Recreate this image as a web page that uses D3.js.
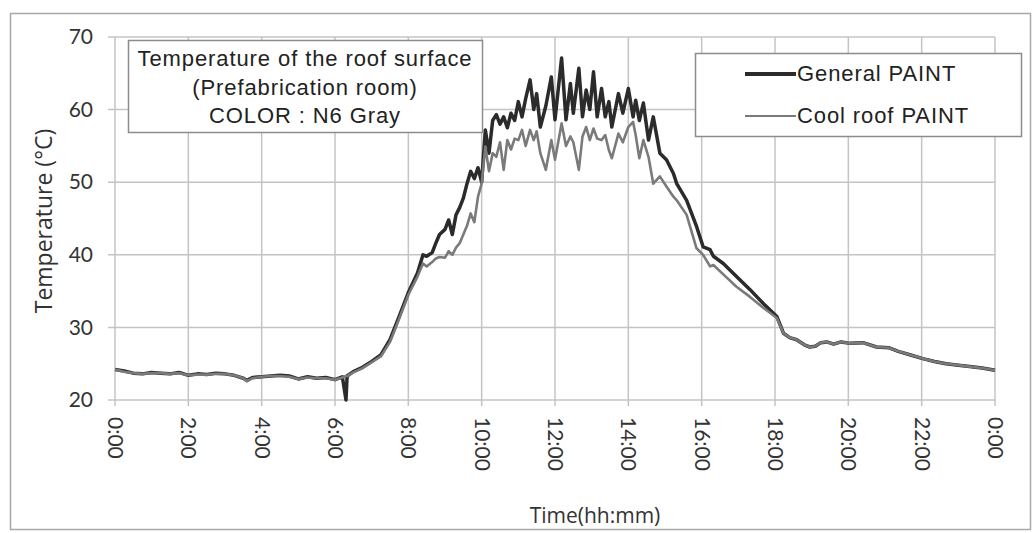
<!DOCTYPE html>
<html>
<head>
<meta charset="utf-8">
<script src="https://cdn.jsdelivr.net/npm/d3@7"></script>
<style>
  body { margin: 0; background: #fff; }
</style>
</head>
<body>
<div class="CHART"></div>
<script>
// hours of the day and readings
var hours = [0, 0.25, 0.5, 0.75, 1, 1.25, 1.5, 1.75, 2, 2.25, 2.5, 2.75, 3, 3.25, 3.5, 3.6, 3.75, 4, 4.25, 4.5, 4.75,
  5, 5.25, 5.5, 5.75, 6, 6.2, 6.3, 6.33, 6.5, 6.75, 7, 7.25, 7.5, 7.75, 8, 8.25, 8.4, 8.5, 8.65, 8.75, 8.85,
  9, 9.1, 9.2, 9.3, 9.4, 9.5, 9.6, 9.7, 9.8, 9.9, 10, 10.1, 10.2, 10.3, 10.4, 10.5, 10.6, 10.7, 10.8, 10.9,
  11, 11.1, 11.2, 11.32, 11.42, 11.5, 11.6, 11.75, 11.9, 12, 12.18, 12.3, 12.42, 12.5, 12.65, 12.75, 12.85, 12.95,
  13.05, 13.15, 13.27, 13.37, 13.47, 13.55, 13.73, 13.85, 14, 14.13, 14.2, 14.3, 14.41, 14.55, 14.68, 14.86,
  15.04, 15.23, 15.32, 15.59, 15.86, 16.04, 16.23, 16.32, 16.59, 16.95, 17.32, 17.68, 18.05, 18.23, 18.4, 18.59,
  18.8, 18.95, 19.1, 19.25, 19.41, 19.6, 19.8, 20.05, 20.4, 20.77, 21.1, 21.36, 21.7, 22.03, 22.35, 22.67, 23,
  23.31, 23.65, 24];

var generalPaint = [24.2, 24.0, 23.7, 23.6, 23.8, 23.7, 23.6, 23.8, 23.4, 23.6, 23.5, 23.7, 23.6, 23.4, 23.0, 22.7, 23.1, 23.2, 23.3, 23.4, 23.3,
  22.9, 23.2, 23.0, 23.1, 22.8, 23.2, 20.0, 23.3, 23.9, 24.5, 25.3, 26.2, 28.3, 31.5, 34.8, 37.5, 40.0, 39.8, 40.3, 41.6, 42.8,
  43.5, 44.8, 42.8, 45.5, 46.5, 47.8, 49.8, 51.5, 50.5, 52.0, 50.0, 57.2, 54.0, 58.5, 59.3, 58.0, 59.0, 57.5, 59.5, 58.5,
  61.1, 59.0, 61.5, 64.1, 60.0, 62.2, 57.6, 60.5, 64.5, 58.6, 67.1, 58.6, 63.6, 59.5, 65.7, 59.0, 62.7, 60.0,
  65.2, 59.0, 62.9, 59.0, 61.1, 57.6, 62.2, 59.5, 62.9, 59.0, 61.3, 58.5, 60.9, 55.8, 59.0, 54.0,
  53.1, 51.2, 49.8, 47.5, 43.9, 41.1, 40.7, 39.8, 38.8, 37.0, 35.2, 33.3, 31.5, 29.2, 28.6, 28.3,
  27.6, 27.3, 27.4, 27.9, 28.0, 27.7, 28.0, 27.8, 27.9, 27.3, 27.2, 26.7, 26.2, 25.7, 25.3, 25.0, 24.8,
  24.6, 24.4, 24.1];

var coolRoofPaint = [24.2, 23.9, 23.7, 23.6, 23.7, 23.7, 23.6, 23.7, 23.4, 23.5, 23.5, 23.6, 23.6, 23.4, 23.0, 22.6, 23.0, 23.2, 23.3, 23.3, 23.2,
  22.9, 23.1, 23.0, 23.0, 22.8, 23.1, 23.3, 23.3, 23.8, 24.4, 25.2, 26.0, 28.0, 31.2, 34.5, 37.0, 38.8, 38.4, 39.0, 39.5, 39.7,
  39.6, 40.5, 40.0, 41.0, 41.6, 42.8, 44.0, 45.7, 44.5, 48.0, 49.8, 54.9, 51.5, 54.0, 53.5, 55.5, 51.7, 55.8, 54.5, 56.0,
  55.8, 57.2, 55.0, 57.2, 55.8, 57.0, 54.0, 51.7, 55.8, 53.1, 58.1, 55.0, 56.3, 55.5, 51.7, 56.3, 57.6, 55.8,
  57.4, 56.0, 55.8, 56.5, 54.4, 53.3, 56.7, 55.5, 57.6, 58.3, 56.5, 53.3, 55.8, 53.5, 49.8, 50.8,
  49.4, 48.0, 47.5, 45.5, 40.9, 40.0, 38.4, 38.6, 37.3, 35.6, 34.2, 32.7, 31.3, 29.2, 28.6, 28.3,
  27.6, 27.3, 27.4, 27.9, 28.0, 27.7, 28.0, 27.8, 27.9, 27.3, 27.2, 26.7, 26.2, 25.7, 25.3, 25.0, 24.8,
  24.6, 24.4, 24.1];

var xTickHours = [0, 2, 4, 6, 8, 10, 12, 14, 16, 18, 20, 22, 24];
var xTickLabels = ["0:00", "2:00", "4:00", "6:00", "8:00", "10:00", "12:00", "14:00", "16:00", "18:00", "20:00", "22:00", "0:00"];
var yTicks = [20, 30, 40, 50, 60, 70];
var titleLines = ["Temperature of the roof surface", "(Prefabrication room)", "COLOR : N6 Gray"];
var seriesNames = ["General PAINT", "Cool roof PAINT"];

var W = 1033, H = 533;
var margin = {top: 37, right: 38, bottom: 133, left: 115};

var svg = d3.select(".CHART").append("svg")
    .attr("width", W)
    .attr("height", H);

// outer frame
svg.append("rect")
    .attr("x", 10.5).attr("y", 13.5)
    .attr("width", 1020).attr("height", 516)
    .attr("fill", "none").attr("stroke", "#a8a8a8").attr("stroke-width", 1.5);

var x = d3.scaleLinear().domain([0, 24]).range([margin.left, W - margin.right]);
var y = d3.scaleLinear().domain([20, 70]).range([H - margin.bottom, margin.top]);

// grid
svg.append("g").selectAll("line").data(yTicks).enter().append("line")
    .attr("x1", margin.left - 7).attr("x2", x(24))
    .attr("y1", function(d) { return y(d); }).attr("y2", function(d) { return y(d); })
    .attr("stroke", "#c4c4c4").attr("stroke-width", 1.5);

svg.append("g").selectAll("line").data(xTickHours).enter().append("line")
    .attr("x1", function(d) { return x(d); }).attr("x2", function(d) { return x(d); })
    .attr("y1", y(70)).attr("y2", y(20) + 6)
    .attr("stroke", "#c4c4c4").attr("stroke-width", 1.5);

// y axis
var yAxis = svg.append("g")
    .attr("transform", "translate(" + (margin.left - 22) + ",0)")
    .call(d3.axisLeft(y).tickValues(yTicks).tickSize(0).tickPadding(0));
yAxis.select(".domain").remove();
yAxis.selectAll("text")
    .attr("font-family", "Lato, 'Open Sans', sans-serif")
    .attr("font-size", 21).attr("fill", "#333");

// x axis, labels turned to read downward
var xAxis = svg.append("g")
    .attr("transform", "translate(0," + (y(20) + 17) + ")")
    .call(d3.axisBottom(x).tickValues(xTickHours).tickSize(0)
      .tickFormat(function(d, i) { return xTickLabels[i]; }));
xAxis.select(".domain").remove();
xAxis.selectAll("text")
    .attr("font-family", "Lato, 'Open Sans', sans-serif")
    .attr("font-size", 21).attr("fill", "#333")
    .attr("y", 0).attr("dy", "0.35em").attr("x", 0)
    .attr("transform", "rotate(90)")
    .style("text-anchor", "start");

// axis titles
svg.append("text")
    .attr("transform", "translate(52,221) rotate(-90)")
    .attr("text-anchor", "middle")
    .attr("font-family", "'Open Sans', sans-serif")
    .attr("font-size", 23).attr("fill", "#333")
    .text("Temperature (°C)");

svg.append("text")
    .attr("x", 595).attr("y", 523)
    .attr("text-anchor", "middle")
    .attr("font-family", "'Open Sans', sans-serif")
    .attr("font-size", 21).attr("fill", "#333")
    .text("Time(hh:mm)");

// lines
var lineGen = function(vals) {
  return d3.line()
    .x(function(d, i) { return x(hours[i]); })
    .y(function(d) { return y(d); })(vals);
};

svg.append("path")
    .attr("d", lineGen(generalPaint))
    .attr("fill", "none").attr("stroke", "#2b2b2b").attr("stroke-width", 3.5)
    .attr("stroke-linejoin", "round");

svg.append("path")
    .attr("d", lineGen(coolRoofPaint))
    .attr("fill", "none").attr("stroke", "#7a7a7a").attr("stroke-width", 2.6)
    .attr("stroke-linejoin", "round");

// title box
var tb = svg.append("g");
tb.append("rect")
    .attr("x", 128.5).attr("y", 40.5).attr("width", 354).attr("height", 92)
    .attr("fill", "#fff").attr("stroke", "#8c8c8c").attr("stroke-width", 1.5);
tb.selectAll("text").data(titleLines).enter().append("text")
    .attr("x", 305).attr("y", function(d, i) { return 66 + i * 28.5; })
    .attr("text-anchor", "middle")
    .attr("font-family", "'Liberation Sans', Arial, sans-serif")
    .attr("font-size", 22).attr("letter-spacing", 0.9).attr("fill", "#222")
    .text(function(d) { return d; });

// legend
var lg = svg.append("g");
lg.append("rect")
    .attr("x", 695.5).attr("y", 53.5).attr("width", 326).attr("height", 83)
    .attr("fill", "#fff").attr("stroke", "#8c8c8c").attr("stroke-width", 1.5);
var legendColors = ["#2b2b2b", "#7a7a7a"];
var legendWidths = [4, 1.8];
lg.selectAll("line").data(seriesNames).enter().append("line")
    .attr("x1", 745).attr("x2", 796)
    .attr("y1", function(d, i) { return 74 + i * 42; }).attr("y2", function(d, i) { return 74 + i * 42; })
    .attr("stroke", function(d, i) { return legendColors[i]; })
    .attr("stroke-width", function(d, i) { return legendWidths[i]; });
lg.selectAll("text").data(seriesNames).enter().append("text")
    .attr("x", 797).attr("y", function(d, i) { return 81 + i * 42; })
    .attr("font-family", "'Liberation Sans', Arial, sans-serif")
    .attr("font-size", 22).attr("letter-spacing", 0.9).attr("fill", "#222")
    .text(function(d) { return d; });
</script>
</body>
</html>
